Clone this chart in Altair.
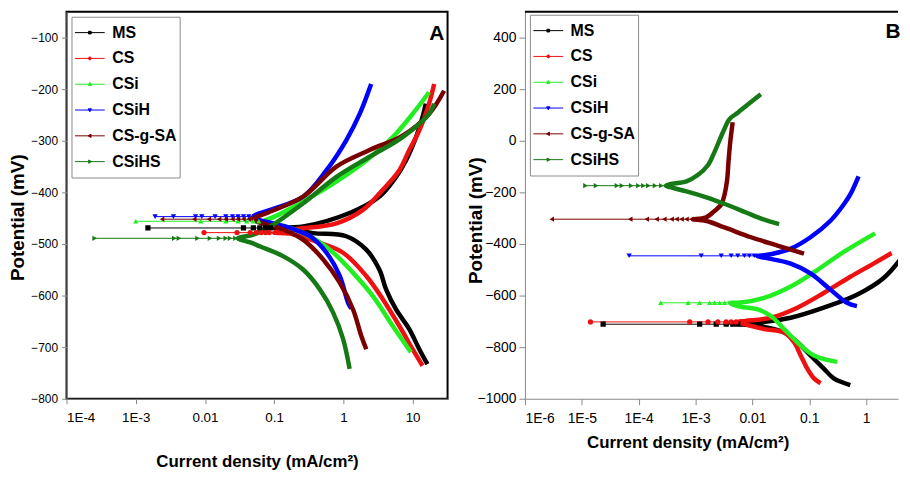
import altair as alt
import pandas as pd

SERIES = ["MS", "CS", "CSi", "CSiH", "CS-g-SA", "CSiHS"]
COLORS = ["#000000", "#ee1111", "#22ee22", "#0000ff", "#7a0000", "#157a15"]
SHAPES = ["square", "circle", "triangle-up", "triangle-down", "triangle-left", "triangle-right"]
LEGEND_PATHS = [
    "M-1,0H1M-0.09,-0.09H0.09V0.09H-0.09Z",
    "M-1,0H1M0.1,0A0.1,0.1,0,1,1,-0.1,0A0.1,0.1,0,1,1,0.1,0Z",
    "M-1,0H1M0,-0.12L0.11,0.08L-0.11,0.08Z",
    "M-1,0H1M0,0.12L0.11,-0.08L-0.11,-0.08Z",
    "M-1,0H1M-0.12,0L0.08,-0.11L0.08,0.11Z",
    "M-1,0H1M0.12,0L-0.08,-0.11L-0.08,0.11Z",
]

# ---------------- Panel A ----------------
A_ECORR = {"MS": -469, "CS": -478, "CSi": -456, "CSiH": -447, "CS-g-SA": -452, "CSiHS": -489}
A_TIP = {"MS": 0.1, "CS": 0.1, "CSi": 0.07, "CSiH": 0.05, "CS-g-SA": 0.05, "CSiHS": 0.03}
A_CAT_I = {
    "MS": [16.4, 12.5, 8.95, 5.77, 4.14, 3.32, 2.14, 1.10, 0.367, 0.19],
    "CS": [13.9, 10.0, 6.44, 3.71, 2.14, 0.989, 0.457, 0.17],
    "CSi": [9.46, 5.17, 2.67, 1.38, 0.637, 0.264, 0.12],
    "CSiH": [1.30, 1.17, 0.886, 0.570, 0.329, 0.17],
    "CS-g-SA": [2.14, 1.81, 1.38, 0.886, 0.511, 0.264, 0.136],
    "CSiHS": [1.23, 0.989, 0.711, 0.457, 0.264, 0.136, 0.063, 0.045],
}
A_CAT_E = {
    "MS": [-733, -704, -665, -627, -588, -550, -511, -485, -479, -472],
    "CS": [-736, -704, -659, -607, -562, -517, -498, -480],
    "CSi": [-710, -659, -601, -556, -511, -479, -463],
    "CSiH": [-625, -614, -562, -517, -485, -469],
    "CS-g-SA": [-704, -678, -627, -575, -530, -492, -472],
    "CSiHS": [-742, -684, -633, -588, -550, -524, -505, -497],
}
A_ANO_I = {
    "MS": [0.264, 1.23, 3.32, 5.77, 8.02, 11.2, 13.9, 15.5],
    "CS": [0.211, 0.794, 1.92, 3.71, 6.44, 8.95, 12.5, 17.3, 20.5],
    "CSi": [0.098, 0.236, 0.711, 2.14, 5.17, 10.0, 17.3],
    "CSiH": [0.088, 0.264, 0.570, 1.10, 1.72, 2.52],
    "CS-g-SA": [0.079, 0.264, 0.794, 2.39, 7.18, 17.3, 28.5],
    "CSiHS": [0.05, 0.088, 0.264, 0.794, 2.39, 7.18, 17.3, 20.5],
}
A_ANO_E = {
    "MS": [-466, -440, -408, -370, -338, -293, -254, -228],
    "CS": [-471, -460, -434, -395, -357, -318, -280, -228, -190],
    "CSi": [-448, -421, -383, -338, -293, -248, -206],
    "CSiH": [-434, -408, -357, -299, -248, -190],
    "CS-g-SA": [-440, -408, -350, -318, -290, -248, -203],
    "CSiHS": [-482, -466, -421, -370, -331, -293, -248, -228],
}
A_FLAT_I = {
    "MS": [0.0015, 0.036, 0.05, 0.062, 0.075, 0.088],
    "CS": [0.0097, 0.029, 0.045, 0.055, 0.065, 0.075, 0.085],
    "CSi": [0.001, 0.0087, 0.02, 0.03, 0.04, 0.05, 0.06],
    "CSiH": [0.0019, 0.0035, 0.0073, 0.009, 0.014, 0.02, 0.025, 0.03, 0.036, 0.043],
    "CS-g-SA": [0.0024, 0.007, 0.0114, 0.016, 0.02, 0.025, 0.03, 0.036, 0.043],
    "CSiHS": [0.000255, 0.0036, 0.0042, 0.0078, 0.0118, 0.016, 0.02, 0.023, 0.0275],
}

# ---------------- Panel B ----------------
B_ECORR = {"MS": -711, "CS": -702, "CSi": -628, "CSiH": -446, "CS-g-SA": -304, "CSiHS": -174}
B_TIP = {"MS": 0.006, "CS": 0.0055, "CSi": 0.004, "CSiH": 0.012, "CS-g-SA": 0.0009, "CSiHS": 0.0003}
B_CAT_I = {
    "MS": [0.527, 0.270, 0.180, 0.105, 0.0617, 0.0361, 0.0124],
    "CS": [0.158, 0.121, 0.0923, 0.0707, 0.054, 0.0361, 0.0161, 0.0075],
    "CSi": [0.308, 0.121, 0.0617, 0.0361, 0.0211, 0.0124, 0.0055],
    "CSiH": [0.689, 0.461, 0.236, 0.105, 0.0472, 0.0161],
    "CS-g-SA": [0.0807, 0.0276, 0.00946, 0.00324, 0.0015],
    "CSiHS": [0.0295, 0.0151, 0.00773, 0.00346, 0.00155, 0.000693, 0.000355],
}
B_CAT_E = {
    "MS": [-947, -921, -883, -832, -781, -743, -717],
    "CS": [-940, -921, -883, -832, -781, -743, -730, -712],
    "CSi": [-857, -832, -781, -730, -679, -654, -641],
    "CSiH": [-641, -628, -577, -514, -476, -453],
    "CS-g-SA": [-437, -406, -374, -336, -310],
    "CSiHS": [-323, -304, -278, -247, -219, -196, -180],
}
B_ANO_I = {
    "MS": [0.0124, 0.0472, 0.180, 0.689, 2.01, 4.5],
    "CS": [0.0075, 0.0211, 0.0617, 0.180, 0.527, 1.35, 2.81],
    "CSi": [0.0055, 0.0161, 0.0472, 0.138, 0.403, 1.44],
    "CSiH": [0.0161, 0.0472, 0.105, 0.236, 0.403, 0.527, 0.736],
    "CS-g-SA": [0.0015, 0.00216, 0.00283, 0.00324, 0.0036, 0.0038, 0.0041, 0.0045],
    "CSiHS": [0.000355, 0.000693, 0.00111, 0.00166, 0.00216, 0.00303, 0.00396, 0.00553, 0.00773, 0.0141],
}
B_ANO_E = {
    "MS": [-705, -686, -647, -597, -533, -445],
    "CS": [-698, -686, -647, -590, -527, -476, -435],
    "CSi": [-628, -609, -565, -501, -431, -359],
    "CSiH": [-444, -418, -374, -310, -247, -208, -138],
    "CS-g-SA": [-298, -272, -247, -208, -150, -80, 0, 72],
    "CSiHS": [-168, -157, -132, -94, -43, 33, 84, 109, 135, 180],
}
B_FLAT_I = {
    "MS": [2.37e-5, 1.18e-3, 2.31e-3, 3.46e-3, 4.52e-3, 5.53e-3],
    "CS": [1.42e-5, 7.9e-4, 1.66e-3, 2.47e-3, 3.46e-3, 4.23e-3, 5.17e-3],
    "CSi": [2.44e-4, 7.4e-4, 1.18e-3, 1.77e-3, 2.16e-3, 2.65e-3, 3.24e-3],
    "CSiH": [6.8e-5, 1.26e-3, 2.83e-3, 4.23e-3, 5.53e-3, 7.23e-3, 8.84e-3, 0.0108],
    "CS-g-SA": [2.96e-6, 7.1e-5, 1.39e-4, 2.07e-4, 2.82e-4, 3.79e-4, 4.64e-4, 5.67e-4, 6.93e-4, 8.48e-4],
    "CSiHS": [1.16e-5, 1.78e-5, 4.15e-5, 5.07e-5, 7.38e-5, 9.9e-5, 1.21e-4, 1.48e-4, 1.94e-4, 2.5e-4],
}

A_X_DOMAIN = [1e-4, 32]
A_Y_DOMAIN = [-800, -50]
A_X_TICKS = [1e-4, 1e-3, 0.01, 0.1, 1, 10]
A_Y_TICKS = [-800, -700, -600, -500, -400, -300, -200, -100]
B_X_DOMAIN = [1e-6, 3.64]
B_Y_DOMAIN = [-1000, 500]
B_X_TICKS = [1e-6, 1e-5, 1e-4, 1e-3, 0.01, 0.1, 1]
B_Y_TICKS = [-1000, -800, -600, -400, -200, 0, 200, 400]

FONT = "Liberation Sans"
LABEL_EXPR = ("datum.value < 0.005 ? '1E' + round(log(datum.value) / LN10) : "
              "(datum.value >= 1 ? format(datum.value, 'd') : format(datum.value, '~g'))")


def build(ecorr, tip, cat_i, cat_e, ano_i, ano_e, flat_i):
    curve, flat, marks = [], [], []
    for s in SERIES:
        k = 0
        for i, e in zip(cat_i[s], cat_e[s]):
            curve.append({"series": s, "i": i, "E": e, "k": k}); k += 1
        curve.append({"series": s, "i": tip[s], "E": ecorr[s], "k": k}); k += 1
        for i, e in zip(ano_i[s], ano_e[s]):
            curve.append({"series": s, "i": i, "E": e, "k": k}); k += 1
        flat.append({"series": s, "i": tip[s], "E": ecorr[s]})
        for i in flat_i[s]:
            flat.append({"series": s, "i": i, "E": ecorr[s]})
            marks.append({"series": s, "i": i, "E": ecorr[s]})
    return pd.DataFrame(curve), pd.DataFrame(flat), pd.DataFrame(marks)


def panel(data, xdom, ydom, xticks, yticks, w, h, letter, lx, ly, ax):
    curve, flat, marks = data
    x = alt.X("i:Q", scale=alt.Scale(type="log", domain=xdom, nice=False),
              axis=alt.Axis(values=xticks, labelExpr=LABEL_EXPR, grid=False,
                            title="Current density (mA/cm²)", labelFontSize=ax["xl"],
                            tickSize=ax["xts"], labelPadding=ax["xlp"],
                            titleY=ax["xty"], titleX=ax["xtx"], titleFontSize=17))
    y = alt.Y("E:Q", scale=alt.Scale(domain=ydom, nice=False, zero=False),
              axis=alt.Axis(values=yticks, grid=False, title="Potential (mV)", format="d",
                            labelFontSize=ax["yl"], tickSize=ax["yts"], labelPadding=ax["ylp"],
                            titleX=ax["ytx"], titleY=ax["yty"], titleFontSize=19))
    color = alt.Color("series:N", scale=alt.Scale(domain=SERIES, range=COLORS), legend=None)

    thick = alt.Chart(curve).mark_line(strokeWidth=4.5, interpolate="catmull-rom", clip=True).encode(
        x=x, y=y, color=color, detail="series:N", order="k:Q")
    thin = alt.Chart(flat).mark_line(strokeWidth=1, clip=True).encode(
        x=x, y=y, color=color, detail="series:N", order="i:Q")
    pts = alt.Chart(marks).mark_point(filled=True, size=28, opacity=1, clip=True).encode(
        x=x, y=y, color=color,
        shape=alt.Shape("series:N", scale=alt.Scale(domain=SERIES, range=SHAPES), legend=None))

    leg = alt.Legend(title=None, orient="none", legendX=5, legendY=ly, symbolSize=900,
                     clipHeight=26, rowPadding=0, padding=3, labelOffset=7,
                     labelFont=FONT, labelFontSize=16, labelFontWeight="bold", labelColor="black",
                     strokeColor="#8a8a8a", fillColor="white", symbolStrokeWidth=1)
    leg_df = pd.DataFrame({"label": SERIES, "i": [xdom[0] / 1000] * 6, "E": [ydom[0]] * 6})
    legend_layer = alt.Chart(leg_df).mark_point(filled=True, opacity=1, clip=True).encode(
        x=x, y=y,
        fill=alt.Fill("label:N", scale=alt.Scale(domain=SERIES, range=COLORS), legend=leg),
        stroke=alt.Stroke("label:N", scale=alt.Scale(domain=SERIES, range=COLORS), legend=leg),
        shape=alt.Shape("label:N", scale=alt.Scale(domain=SERIES, range=LEGEND_PATHS), legend=leg))

    txt = alt.Chart(pd.DataFrame({"t": [letter]})).mark_text(
        font=FONT, fontSize=21, fontWeight="bold", color="black", align="center", baseline="middle"
    ).encode(text="t:N", x=alt.value(lx), y=alt.value(ly + 17))

    return [thin, thick, pts, legend_layer, txt]


A_data = build(A_ECORR, A_TIP, A_CAT_I, A_CAT_E, A_ANO_I, A_ANO_E, A_FLAT_I)
B_data = build(B_ECORR, B_TIP, B_CAT_I, B_CAT_E, B_ANO_I, B_ANO_E, B_FLAT_I)

WA, WB, H = 384, 376, 390

A_layers = panel(A_data, A_X_DOMAIN, A_Y_DOMAIN, A_X_TICKS, A_Y_TICKS, WA, H, "A", 373, 5,
                 dict(xl=13.5, xts=5, xlp=7, xty=55, xtx=WA / 2, yl=12, yts=5, ylp=4, ytx=-39, yty=207))
B_layers = panel(B_data, B_X_DOMAIN, B_Y_DOMAIN, B_X_TICKS, B_Y_TICKS, WB, H, "B", 371, 3,
                 dict(xl=14, xts=6, xlp=7, xty=36, xtx=164, yl=14, yts=6, ylp=3, ytx=-40, yty=210))

top_rule = alt.Chart(pd.DataFrame({"a": [0]})).mark_rule(color="black", strokeWidth=2).encode(
    x=alt.value(0), x2=alt.value(WB), y=alt.value(0))

A_chart = alt.layer(*A_layers).resolve_scale(
    shape="independent", fill="independent", stroke="independent"
).properties(width=WA, height=H, view=alt.ViewBackground(stroke="black", strokeWidth=2))

B_chart = alt.layer(*B_layers, top_rule).resolve_scale(
    shape="independent", fill="independent", stroke="independent"
).properties(width=WB, height=H, view=alt.ViewBackground(stroke="transparent"))

chart = alt.hconcat(A_chart, B_chart, spacing=17).properties(
    padding={"left": 0, "top": 0, "right": 0, "bottom": 0}
).configure_axis(
    labelFont=FONT, labelFontWeight="bold", labelColor="black",
    titleFont=FONT, titleFontWeight="bold", titleColor="black",
    tickColor="black", tickWidth=1.5, domainColor="black", domainWidth=2,
).configure(background="white")

chart.save("out.html", embed_options={"renderer": "svg", "actions": False})
